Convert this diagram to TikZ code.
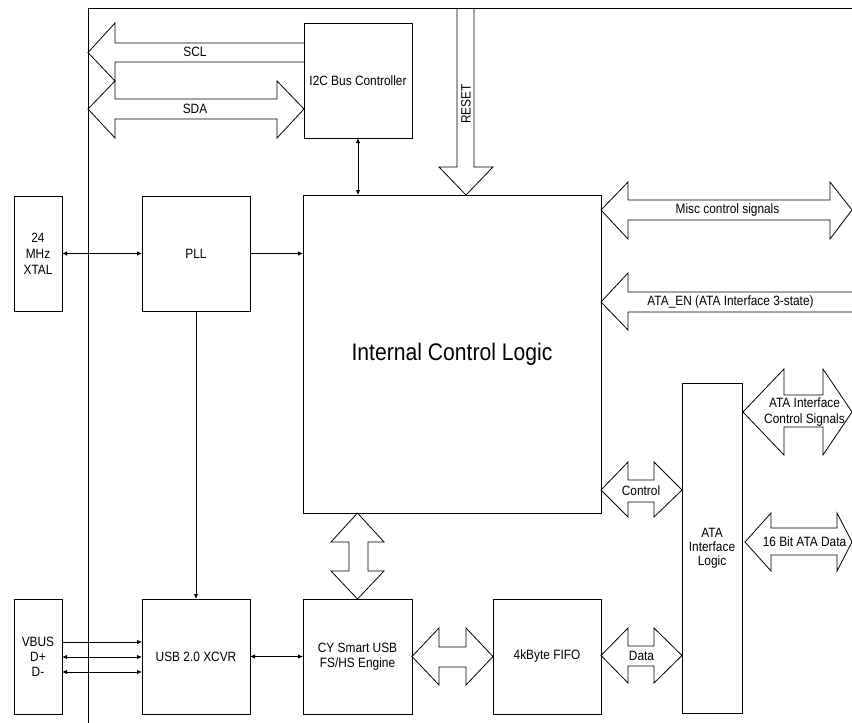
\documentclass[tikz,border=0pt]{standalone}
\usepackage{fontspec}
\setmainfont{Liberation Sans}[FakeStretch=0.88]
\usetikzlibrary{arrows.meta,calc}
\begin{document}
\begin{tikzpicture}[x=1pt,y=-1pt,
  every node/.style={font=\fontsize{13.5}{15}\selectfont, inner sep=0pt, outer sep=0pt},
  blk/.style={draw, line width=0.8pt, align=center},
  fat/.style={draw, line width=0.8pt, line join=miter},
  thin/.style={line width=0.8pt},
  >={Latex[length=5pt,width=4.5pt]}
]
\useasboundingbox (0,0) rectangle (852,723);
% chip border
\draw[thin] (88,723) -- (88,8) -- (852,8);

% blocks
\node[blk, minimum width=108pt, minimum height=115pt] (i2c) at (358,80.5) {I2C Bus Controller};
\node[blk, minimum width=298pt, minimum height=318pt, font=\fontsize{24}{28}\selectfont] (icl) at (452,354) {Internal Control Logic};
\node[blk, minimum width=108pt, minimum height=115pt] (pll) at (196,253.5) {PLL};
\node[blk, minimum width=48pt, minimum height=115pt, font=\fontsize{13.5}{16}\selectfont] (xtal) at (38,253.5) {24\\MHz\\XTAL};
\node[blk, minimum width=108pt, minimum height=115pt] (usb) at (196,656.5) {USB 2.0 XCVR};
\node[blk, minimum width=48pt, minimum height=115pt] (vbus) at (38,656.5) {VBUS\\D+\\D-};
\node[blk, minimum width=109pt, minimum height=115pt, font=\fontsize{13.5}{14.5}\selectfont] (cy) at (357.5,656.5) {CY Smart USB\\FS/HS Engine};
\node[blk, minimum width=108pt, minimum height=115pt] (fifo) at (547,656.5) {4kByte FIFO};
\node[blk, minimum width=60pt, minimum height=330pt, font=\fontsize{13.5}{14}\selectfont] (ata) at (712,548) {ATA\\Interface\\Logic};

% fat arrows
\draw[fat] (304,43) -- (115,43) -- (115,23) -- (88,52.5) -- (115,81) -- (115,62) -- (304,62);
\draw[fat] (88,109) -- (115,81) -- (115,99) -- (277,99) -- (277,81) -- (304,109) -- (277,138) -- (277,119) -- (115,119) -- (115,138) -- cycle;
\draw[fat] (457,8) -- (457,167) -- (439,167) -- (466,195) -- (493,167) -- (474,167) -- (474,8);
\draw[fat] (601,210) -- (628,182) -- (628,200) -- (830,200) -- (830,182) -- (852,210) -- (830,239) -- (830,220) -- (628,220) -- (628,239) -- cycle;
\draw[fat] (852,292) -- (628,292) -- (628,273) -- (601,302) -- (628,330) -- (628,312) -- (852,312);
\draw[fat] (743,412) -- (784,369) -- (784,395) -- (823,395) -- (823,369) -- (852,412) -- (823,455) -- (823,427) -- (784,427) -- (784,455) -- cycle;
\draw[fat] (745,542) -- (771,513) -- (771,528) -- (837,528) -- (837,513) -- (852,542) -- (837,571) -- (837,555) -- (771,555) -- (771,571) -- cycle;
\draw[fat] (601,490) -- (628,462) -- (628,480) -- (654,480) -- (654,462) -- (682,490) -- (654,517) -- (654,502) -- (628,502) -- (628,517) -- cycle;
\draw[fat] (601,655.5) -- (628,628) -- (628,646) -- (654,646) -- (654,628) -- (682,655.5) -- (654,683) -- (654,666) -- (628,666) -- (628,683) -- cycle;
\draw[fat] (412,656.5) -- (439,628) -- (439,647) -- (466,647) -- (466,628) -- (493,656.5) -- (466,685) -- (466,667) -- (439,667) -- (439,685) -- cycle;
\draw[fat] (357.5,513) -- (331,542) -- (349,542) -- (349,571) -- (331,571) -- (357.5,599) -- (384,571) -- (368,571) -- (368,542) -- (384,542) -- cycle;

% fat arrow labels
\node (lscl) at (195,52) {SCL};
\node (lsda) at (195,108.5) {SDA};
\node[rotate=90] (lreset) at (466,104) {RESET};
\node (lmisc) at (727.5,210) {Misc control signals};
\node (laten) at (730.5,302) {ATA\_EN (ATA Interface 3-state)};
\node[align=center, font=\fontsize{13.5}{16}\selectfont] (lctrl) at (804.5,412.5) {ATA Interface\\Control Signals};
\node (l16) at (804.5,542) {16 Bit ATA Data};
\node (lcontrol) at (641,491) {Control};
\node (ldata) at (641.5,655.5) {Data};

% thin connectors
\draw[thin,<->] (i2c.south) -- (i2c.south |- icl.north);
\draw[thin,<->] (xtal.east) -- (pll.west);
\draw[thin,->] (pll.east) -- (pll.east -| icl.west);
\draw[thin,->] (pll.south) -- (usb.north);
\draw[thin,->] ($(vbus.east)+(0,-14.5)$) -- ($(usb.west)+(0,-14.5)$);
\draw[thin,<->] ($(vbus.east)+(0,0.5)$) -- ($(usb.west)+(0,0.5)$);
\draw[thin,<->] ($(vbus.east)+(0,15.5)$) -- ($(usb.west)+(0,15.5)$);
\draw[thin,<->] (usb.east) -- (cy.west);
\end{tikzpicture}
\end{document}
